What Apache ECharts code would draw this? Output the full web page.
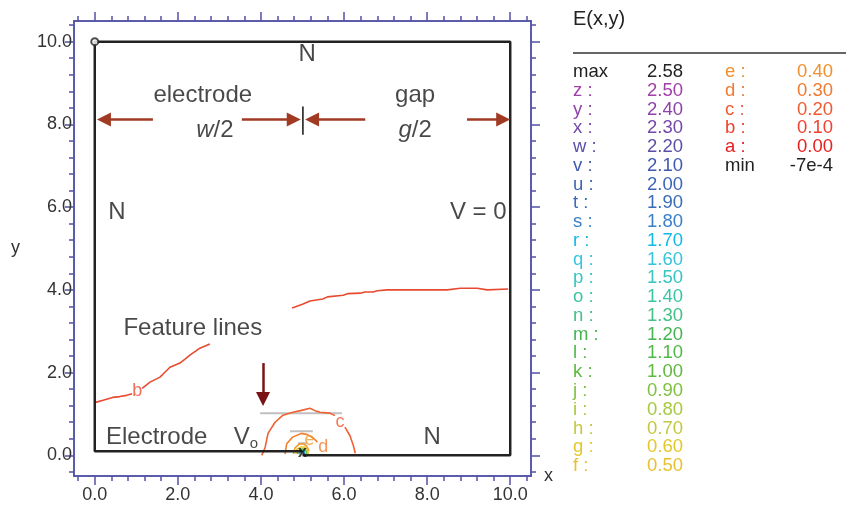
<!DOCTYPE html>
<html><head><meta charset="utf-8">
<script src="https://cdn.jsdelivr.net/npm/echarts@6/dist/echarts.min.js"></script>
<style>html,body{margin:0;padding:0;background:#fff}#c{width:846px;height:507px}</style>
</head><body><div id="c"></div>
<script>
// ---- data ----
const xTickValues = [0, 2, 4, 6, 8, 10];
const yTickValues = [0, 2, 4, 6, 8, 10];
const minorTickValues = [-0.4,0,0.4,0.8,1.2,1.6,2,2.4,2.8,3.2,3.6,4,4.4,4.8,5.2,5.6,6,6.4,6.8,7.2,7.6,8,8.4,8.8,9.2,9.6,10,10.4];

const frameLine = [[5,0],[10,0],[10,10],[0,10],[0,0.1],[5,0.1]];
const cornerPoint = [[0,10]];
const singularPoint = [[5,0]];

// contour b (0.10)
const contourB = [[0.02,1.28],[0.2,1.33],[0.43,1.40],[0.6,1.42],[0.77,1.45],[0.9,1.49],null,
  [1.14,1.62],[1.33,1.77],[1.57,1.89],[1.7,2.02],[1.81,2.13],[2.05,2.23],[2.18,2.33],[2.29,2.42],[2.53,2.59],[2.77,2.69],null,
  [4.75,3.56],[5.0,3.65],[5.18,3.73],[5.49,3.78],[5.6,3.83],[5.98,3.87],[6.1,3.91],[6.39,3.92],[6.5,3.95],[6.70,3.95],[6.8,3.98],[7.04,4.00],[8.48,4.00],[8.8,4.04],[9.2,4.04],[9.45,4.00],[9.95,4.02]];
// contour c (0.20)
const contourC = [[4.02,0.0],[4.10,0.19],[4.17,0.53],[4.34,0.80],[4.53,0.97],[4.77,1.04],[4.95,1.08],[5.18,1.14],[5.3,1.08],[5.42,1.04],[5.66,1.02],[5.78,0.96],null,
  [6.02,0.68],[6.14,0.48],[6.22,0.25],[6.27,0.05]];
// contour d (0.30)
const contourD = [[4.58,0.03],[4.62,0.28],[4.76,0.44],[4.97,0.53],[5.12,0.5],[5.26,0.42],[5.36,0.32]];
// contour e (0.40)
const contourE = [[4.78,0.03],[4.82,0.18],[4.92,0.27],[5.02,0.28],[5.1,0.22],[5.16,0.1]];
// inner contours (f..r)
const contourF = [[4.84,0.03],[4.86,0.14],[4.95,0.2],[5.05,0.2],[5.12,0.14],[5.14,0.03]];
const contourJ = [[4.88,0.03],[4.9,0.11],[4.97,0.15],[5.04,0.15],[5.09,0.1],[5.1,0.03]];
const contourR = [[4.92,0.03],[4.94,0.08],[4.99,0.1],[5.04,0.09],[5.06,0.03]];

// feature lines (grey)
const featureLines = [[3.98,1.02],[5.95,1.02],null,[4.7,0.58],[5.25,0.58],null,[4.89,0.29],[5.1,0.29]];

// contour labels
const contourLabels = [
  {name:'b', value:[1.02,1.55], color:'#e84a30'},
  {name:'c', value:[5.90,0.80], color:'#f05a30'},
  {name:'d', value:[5.50,0.20], color:'#f07a30'},
  {name:'e', value:[5.17,0.36], color:'#f09a30'}
];

// text annotations (data coordinates)
const annotations = [
  {name:'N', value:[5.11,9.69]},
  {name:'electrode', value:[2.60,8.69]},
  {name:'{i|w}/2', value:[2.89,7.85]},
  {name:'gap', value:[7.71,8.69]},
  {name:'{i|g}/2', value:[7.71,7.85]},
  {name:'N', value:[0.53,5.88]},
  {name:'V = 0', value:[9.23,5.88]},
  {name:'Feature lines', value:[2.36,3.08]},
  {name:'Electrode', value:[1.49,0.44]},
  {name:'V{s|o}', value:[3.64,0.44]},
  {name:'N', value:[8.12,0.44]}
];

// dimension arrows [from, to]
const dimArrows = [
  [[1.40,8.12],[0.22,8.12]],
  [[3.54,8.12],[4.79,8.12]],
  [[6.51,8.12],[5.23,8.12]],
  [[8.96,8.12],[9.83,8.12]]
];
const dividerTick = [[5.01,8.43],[5.01,7.75]];
const featureArrow = [[[4.05,2.23],[4.05,1.36]]];

// legend table
const legendTitle = 'E(x,y)';
const legendCol1Labels = ['max','z :','y :','x :','w :','v :','u :','t :','s :','r :','q :','p :','o :','n :','m :','l :','k :','j :','i :','h :','g :','f :'];
const legendCol1Values = ['2.58','2.50','2.40','2.30','2.20','2.10','2.00','1.90','1.80','1.70','1.60','1.50','1.40','1.30','1.20','1.10','1.00','0.90','0.80','0.70','0.60','0.50'];
const legendCol1Colors = ['#222222','#a040a8','#8c44a8','#7448a8','#5a50a8','#3f58b0','#3e66b8','#3a6cb8','#3a80c8','#12b8e6','#38c4dc','#38c4c0','#3cc4a4','#44c088','#44b450','#50b848','#60b840','#80c040','#a8c840','#c4c840','#e4c828','#e8c030'];
const legendCol2Labels = ['e :','d :','c :','b :','a :','min'];
const legendCol2Values = ['0.40','0.30','0.20','0.10','0.00','-7e-4'];
const legendCol2Colors = ['#f09030','#f07a30','#f05a30','#f04030','#e82020','#222222'];

// ---- chart ----
const FONT = '"Liberation Sans", Arial, Helvetica, sans-serif';
const AXIS_COLOR = '#5252a8';
const TXT = 24;
const LEG = 18.5;
const chart = echarts.init(document.getElementById('c'), null, {renderer:'canvas'});

function mkAxis(type, pos, major, withLabels) {
  const ax = {
    type:'value', position:pos, min:-0.5, max:10.5,
    axisLine:{show:true, onZero:false, lineStyle:{color:AXIS_COLOR, width:1.5}},
    splitLine:{show:false},
    axisTick:{show:true, inside:false, length: major ? 9 : 5, customValues: major ? (type==='x'?xTickValues:yTickValues) : minorTickValues, lineStyle:{color:AXIS_COLOR, width:1.5}},
    axisLabel:{show:withLabels}
  };
  if (withLabels) {
    ax.axisLabel = {show:true, customValues: type==='x'?xTickValues:yTickValues, formatter:v=>v.toFixed(1), color:'#333', fontSize:18, fontFamily:FONT, margin: type==='x'?10:2};
  }
  return ax;
}

const xAxes = [mkAxis('x','bottom',true,true), mkAxis('x','bottom',false,false), mkAxis('x','top',true,false), mkAxis('x','top',false,false)];
xAxes[0].name = 'x';
xAxes[0].nameGap = 13;
xAxes[0].nameTextStyle = {fontSize:18, fontFamily:FONT, color:'#333', padding:[32,0,0,0]};
const yAxes = [mkAxis('y','left',true,true), mkAxis('y','left',false,false), mkAxis('y','right',true,false), mkAxis('y','right',false,false)];
yAxes[0].name = 'y';
yAxes[0].nameLocation = 'middle';
yAxes[0].nameRotate = 0;
yAxes[0].nameGap = 54;
yAxes[0].nameTextStyle = {fontSize:18, fontFamily:FONT, color:'#333', padding:[0,0,86,0]};

function lineSeries(data, color, width) {
  return {type:'line', data:data, symbol:'none', connectNulls:false, silent:true, animation:false,
    lineStyle:{color:color, width:width}, z:3};
}

const graphics = [];
graphics.push({type:'text', x:573, y:19, style:{text:legendTitle, fontSize:20, fontFamily:FONT, fill:'#222', textVerticalAlign:'middle'}});
graphics.push({type:'line', shape:{x1:573, y1:53, x2:846, y2:53}, style:{stroke:'#333', lineWidth:1.5}});
const rowY0 = 72, rowDY = 18.76;
legendCol1Labels.forEach((t,i)=>{
  const y = rowY0 + i*rowDY;
  graphics.push({type:'text', x:573, y:y, style:{text:t, fontSize:LEG, fontFamily:FONT, fill:legendCol1Colors[i], textVerticalAlign:'middle', textAlign:'left'}});
  graphics.push({type:'text', x:683, y:y, style:{text:legendCol1Values[i], fontSize:LEG, fontFamily:FONT, fill:legendCol1Colors[i], textVerticalAlign:'middle', textAlign:'right'}});
});
legendCol2Labels.forEach((t,i)=>{
  const y = rowY0 + i*rowDY;
  graphics.push({type:'text', x:725, y:y, style:{text:t, fontSize:LEG, fontFamily:FONT, fill:legendCol2Colors[i], textVerticalAlign:'middle', textAlign:'left'}});
  graphics.push({type:'text', x:833, y:y, style:{text:legendCol2Values[i], fontSize:LEG, fontFamily:FONT, fill:legendCol2Colors[i], textVerticalAlign:'middle', textAlign:'right'}});
});

const option = {
  backgroundColor:'#fff',
  animation:false,
  grid:{left:74, top:21, width:457, height:455, containLabel:false},
  xAxis:xAxes,
  yAxis:yAxes,
  graphic:graphics,
  series:[
    lineSeries(featureLines, '#c0c0c0', 2),
    lineSeries(contourB, '#e84a30', 1.6),
    lineSeries(contourC, '#f06030', 1.6),
    lineSeries(contourD, '#f08030', 1.6),
    lineSeries(contourE, '#f09a30', 1.6),
    lineSeries(contourF, '#e8c830', 1.6),
    lineSeries(contourJ, '#70c040', 1.6),
    lineSeries(contourR, '#20a8e0', 1.6),
    Object.assign(lineSeries(frameLine, '#222', 2.5), {z:4}),
    Object.assign(lineSeries(dividerTick, '#111', 1.5), {z:4}),
    {type:'scatter', data:cornerPoint, symbol:'emptyCircle', symbolSize:7, itemStyle:{color:'#222', borderColor:'#222', borderWidth:2}, z:8, silent:true},
    {type:'scatter', data:singularPoint, symbolSize:0, z:8, silent:true,
      label:{show:true, position:'inside', formatter:'x', fontSize:16, fontWeight:'bold', color:'#111', fontFamily:FONT, offset:[0,-3]}},
    {type:'scatter', data:contourLabels.map(d=>({name:d.name, value:d.value, label:{color:d.color}})), symbolSize:0, z:6, silent:true,
      label:{show:true, position:'inside', formatter:'{b}', fontSize:18, fontFamily:FONT}},
    {type:'scatter', data:annotations, symbolSize:0, z:7, silent:true,
      label:{show:true, position:'inside', formatter:'{b}', fontSize:TXT, fontFamily:FONT, color:'#1a1a1a',
        rich:{i:{fontStyle:'italic', fontSize:TXT, fontFamily:FONT, color:'#1a1a1a'}, s:{fontSize:15, fontFamily:FONT, color:'#1a1a1a', verticalAlign:'bottom', padding:[14,0,0,0]}}}},
    {type:'line', data:[], silent:true, animation:false,
      markLine:{silent:true, animation:false, symbol:['none','triangle'], symbolSize:14, label:{show:false},
        lineStyle:{color:'#a03a22', width:2.5, type:'solid'},
        data: dimArrows.map(a=>[{coord:a[0]},{coord:a[1]}])}},
    {type:'line', data:[], silent:true, animation:false,
      markLine:{silent:true, animation:false, symbol:['none','triangle'], symbolSize:14, label:{show:false},
        lineStyle:{color:'#7a1414', width:2.5, type:'solid'},
        data: featureArrow.map(a=>[{coord:a[0]},{coord:a[1]}])}}
  ]
};
chart.setOption(option);
</script></body></html>
